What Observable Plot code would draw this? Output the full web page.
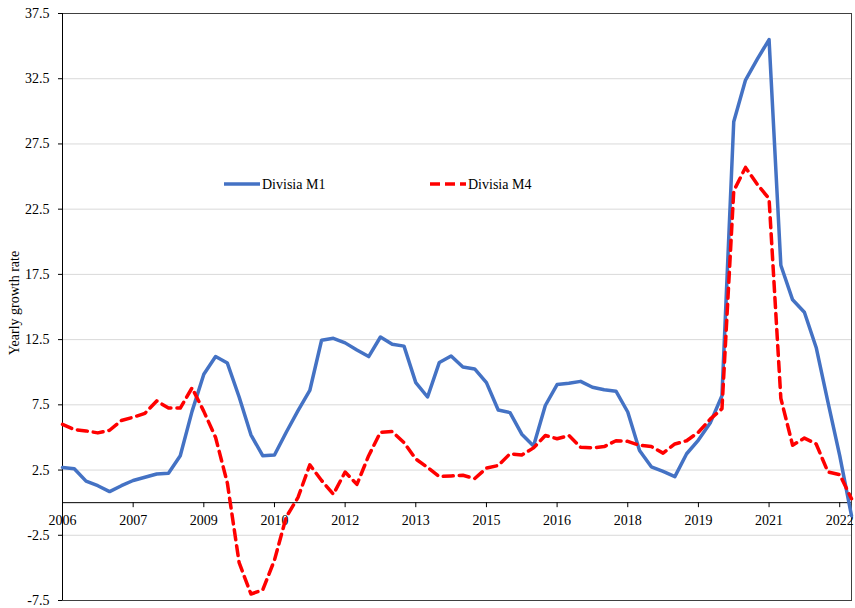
<!DOCTYPE html>
<html><head><meta charset="utf-8">
<script src="https://cdn.jsdelivr.net/npm/d3@7"></script>
<script src="https://cdn.jsdelivr.net/npm/@observablehq/plot@0.6"></script>
<style>
body{margin:0;background:#fff;}
#wrap{position:relative;width:855px;height:608px;}
</style></head><body><div id="wrap"></div>
<script>
// Quarterly observations, 2006Q1 .. 2022Q4 (index 0..67)
const xTickIndex = [0, 6, 12, 18, 24, 30, 36, 42, 48, 54, 60, 66];
const xTickLabels = ["2006","2007","2009","2010","2012","2013","2015","2016","2018","2019","2021","2022"];
const yTicks = [-7.5, -2.5, 2.5, 7.5, 12.5, 17.5, 22.5, 27.5, 32.5, 37.5];

const m1 = [
  2.7, 2.6, 1.65, 1.3, 0.85, 1.3, 1.7, 1.95, 2.2, 2.25,
  3.6, 7.0, 9.85, 11.2, 10.7, 8.1, 5.2, 3.6, 3.65, 5.4,
  7.05, 8.6, 12.45, 12.6, 12.25, 11.7, 11.2, 12.7, 12.15, 12.0,
  9.2, 8.1, 10.75, 11.25, 10.4, 10.25, 9.2, 7.1, 6.9, 5.25,
  4.35, 7.45, 9.05, 9.15, 9.3, 8.85, 8.65, 8.55, 6.95, 4.0,
  2.75, 2.4, 2.0, 3.75, 4.8, 6.1, 8.2, 29.2, 32.4, 34.0,
  35.5, 18.2, 15.55, 14.6, 11.9, 7.7, 3.6, -1.0
];
const m4 = [
  6.0, 5.6, 5.5, 5.35, 5.55, 6.3, 6.55, 6.85, 7.8, 7.25,
  7.25, 8.8, 7.0, 5.0, 1.5, -4.6, -7.0, -6.7, -4.4, -1.1,
  0.4, 2.9, 1.7, 0.65, 2.35, 1.4, 3.6, 5.4, 5.45, 4.6,
  3.35, 2.7, 2.0, 2.05, 2.1, 1.85, 2.65, 2.85, 3.75, 3.65,
  4.2, 5.15, 4.9, 5.15, 4.25, 4.2, 4.3, 4.75, 4.7, 4.4,
  4.3, 3.8, 4.5, 4.75, 5.4, 6.4, 7.2, 23.9, 25.7, 24.4,
  23.3, 8.0, 4.4, 4.95, 4.5, 2.35, 2.15, 0.3
];
const seriesNames = ["Divisia M1", "Divisia M4"];
const yLabel = "Yearly growth rate";

const rows = m1.map((v, i) => ({i, m1: v, m4: m4[i]}));
const font = "'Liberation Serif','Times New Roman',serif";
const blue = "#4472C4", red = "#FF0000";

const chart = Plot.plot({
  width: 855, height: 608,
  marginLeft: 62, marginRight: 4, marginTop: 13, marginBottom: 8,
  style: {fontFamily: font, fontSize: "14px", color: "#000", background: "#fff"},
  x: {domain: [0, 67], axis: null},
  y: {domain: [-7.5, 37.5], axis: null},
  marks: [
    Plot.gridY(yTicks, {stroke: "#d9d9d9", strokeOpacity: 1}),
    Plot.frame({stroke: "#404040"}),
    Plot.axisY(yTicks, {tickSize: 4, tickPadding: 9, tickFormat: d => d.toFixed(1), fontSize: 14, label: null}),
    Plot.ruleX([0], {stroke: "#000"}),
    Plot.ruleY([0], {stroke: "#000"}),
    Plot.ruleX(xTickIndex, {x: d => d, y1: 0, y2: 0, insetBottom: -5, stroke: "#000"}),
    Plot.text(xTickIndex, {x: d => d, y: 0, text: (d, i) => xTickLabels[i], dy: 18, fontSize: 14}),
    Plot.lineY(rows, {x: "i", y: "m1", stroke: blue, strokeWidth: 3.5, strokeLinejoin: "round"}),
    Plot.lineY(rows, {x: "i", y: "m4", stroke: red, strokeWidth: 3.5, strokeDasharray: "10,6"}),
    Plot.text([yLabel], {frameAnchor: "left", textAnchor: "middle", dx: -48, dy: -4, rotate: -90, fontSize: 14})
  ]
});
const wrap = document.getElementById("wrap");
wrap.appendChild(chart);

// Legend overlay (inside plot area)
const legendLayout = [
  {x: 224, color: blue, dash: null},
  {x: 430, color: red, dash: "10,5"}
];
const leg = d3.create("svg").attr("width", 855).attr("height", 608)
  .style("position", "absolute").style("left", "0").style("top", "0");
const ly = 184;
legendLayout.forEach((L, k) => {
  leg.append("line").attr("x1", L.x).attr("x2", L.x + 36).attr("y1", ly).attr("y2", ly)
    .attr("stroke", L.color).attr("stroke-width", 3.5)
    .attr("stroke-dasharray", L.dash);
  leg.append("text").attr("x", L.x + 38).attr("y", ly).attr("dy", "0.35em")
    .attr("font-family", font).attr("font-size", 14).attr("fill", "#000")
    .text(seriesNames[k]);
});
wrap.appendChild(leg.node());
</script></body></html>
